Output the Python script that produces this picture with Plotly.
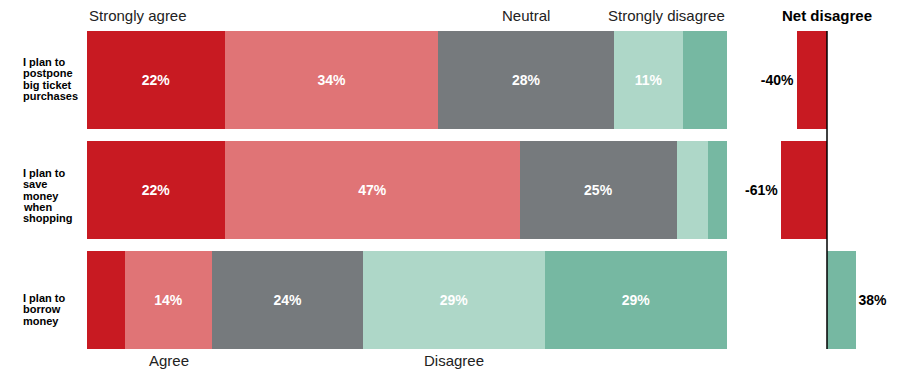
import plotly.graph_objects as go

# ---------------- data ----------------
categories = ["I plan to postpone big ticket purchases",
              "I plan to save money when shopping",
              "I plan to borrow money"]
category_lines = [["I plan to", "postpone", "big ticket", "purchases"],
                  ["I plan to", "save", "money", "when", "shopping"],
                  ["I plan to", "borrow", "money"]]
levels = ["Strongly agree", "Agree", "Neutral", "Disagree", "Strongly disagree"]
strongly_agree = [22, 22, 6]
agree = [34, 47, 14]
neutral = [28, 25, 24]
disagree = [11, 5, 29]
strongly_disagree = [7, 3, 29]
net_disagree = [-40, -61, 38]

# ---------------- style ----------------
colors = ["#C81A22", "#E07476", "#767A7D", "#AED7C8", "#76B8A2"]
FONT = "Liberation Sans, Arial, sans-serif"
OFF = 8                      # page body margin of the html page
W, H = 900 - OFF, 373 - OFF
T, B = 25 - OFF, 373 - 355
PLOT_H = H - T - B
first_line_above = [18, 17, 2]   # px above bar centre of first label line
line_step = 11.3

def px_x(x):   # window px -> paper fraction
    return (x - OFF) / W

def px_y(y):   # window px -> paper fraction
    return (373 - B - y) / PLOT_H

series = [strongly_agree, agree, neutral, disagree, strongly_disagree]
totals = [sum(s[i] for s in series) for i in range(len(categories))]
pct = [[s[i] / totals[i] * 100 for i in range(len(categories))] for s in series]

fig = go.Figure()
for lvl, vals, p, col in zip(levels, series, pct, colors):
    fig.add_trace(go.Bar(
        y=categories, x=p, orientation="h", name=lvl,
        marker=dict(color=col, line=dict(width=0)),
        text=[f"<b>{v}%</b>" if v >= 10 else "" for v in vals],
        textposition="inside", insidetextanchor="middle",
        textfont=dict(family=FONT, size=14, color="white"),
        xaxis="x", yaxis="y", showlegend=False,
    ))

fig.add_trace(go.Bar(
    y=categories, x=net_disagree, orientation="h",
    marker=dict(color=[colors[0] if v < 0 else colors[4] for v in net_disagree], line=dict(width=0)),
    text=[f"<b>{v}%</b>" for v in net_disagree],
    textposition="outside", cliponaxis=False,
    textfont=dict(family=FONT, size=14, color="black"),
    xaxis="x2", yaxis="y", showlegend=False,
))

bargap = 12 / 110
x2_left, x2_right, zero_px, px_per = 740, 890, 827, 0.75

fig.update_layout(
    width=W, height=H,
    margin=dict(l=0, r=0, t=T, b=B),
    paper_bgcolor="white", plot_bgcolor="white",
    barmode="stack", bargap=bargap,
    font=dict(family=FONT, color="#222"),
    xaxis=dict(domain=[px_x(87), px_x(727)], range=[0, 100], visible=False),
    xaxis2=dict(domain=[px_x(x2_left), px_x(x2_right)],
                range=[-(zero_px - x2_left) / px_per, (x2_right - zero_px) / px_per],
                visible=False, anchor="y"),
    yaxis=dict(categoryorder="array", categoryarray=categories,
               range=[len(categories) - 0.5, -0.5], visible=False),
)

# zero line of net chart
fig.add_shape(type="line", xref="x2", yref="y", x0=0, x1=0,
              y0=-0.5 + bargap / 2, y1=len(categories) - 0.5 - bargap / 2,
              line=dict(color="black", width=1.5))

# category labels
for ci, (cat, lines) in enumerate(zip(categories, category_lines)):
    for li, ln in enumerate(lines):
        fig.add_annotation(text=f"<b>{ln}</b>", xref="paper", x=px_x(21), xanchor="left",
                           yref="y", y=cat, yanchor="middle",
                           yshift=first_line_above[ci] - li * line_step,
                           showarrow=False, font=dict(family=FONT, size=11, color="black"))

top_y = px_y(16)
bot_y = px_y(360)

# header labels
fig.add_annotation(text="Strongly agree", xref="x", x=0, xanchor="left",
                   yref="paper", y=top_y, yanchor="middle", showarrow=False,
                   font=dict(family=FONT, size=15, color="#222"))
neutral_mid = pct[0][0] + pct[1][0] + pct[2][0] / 2
fig.add_annotation(text="Neutral", xref="x", x=neutral_mid, xanchor="center",
                   yref="paper", y=top_y, yanchor="middle", showarrow=False,
                   font=dict(family=FONT, size=15, color="#222"))
fig.add_annotation(text="Strongly disagree", xref="x", x=100, xanchor="right",
                   yref="paper", y=top_y, yanchor="middle", showarrow=False,
                   font=dict(family=FONT, size=15, color="#222"))
fig.add_annotation(text="<b>Net disagree</b>", xref="x2", x=0, xanchor="center",
                   yref="paper", y=top_y, yanchor="middle", showarrow=False,
                   font=dict(family=FONT, size=15, color="black"))

# footer labels (over last row's agree / disagree segments)
last = len(categories) - 1
agree_mid = pct[0][last] + pct[1][last] / 2
disagree_mid = pct[0][last] + pct[1][last] + pct[2][last] + pct[3][last] / 2
fig.add_annotation(text="Agree", xref="x", x=agree_mid, xanchor="center",
                   yref="paper", y=bot_y, yanchor="middle", showarrow=False,
                   font=dict(family=FONT, size=15, color="#222"))
fig.add_annotation(text="Disagree", xref="x", x=disagree_mid, xanchor="center",
                   yref="paper", y=bot_y, yanchor="middle", showarrow=False,
                   font=dict(family=FONT, size=15, color="#222"))

fig.write_html("out.html")
